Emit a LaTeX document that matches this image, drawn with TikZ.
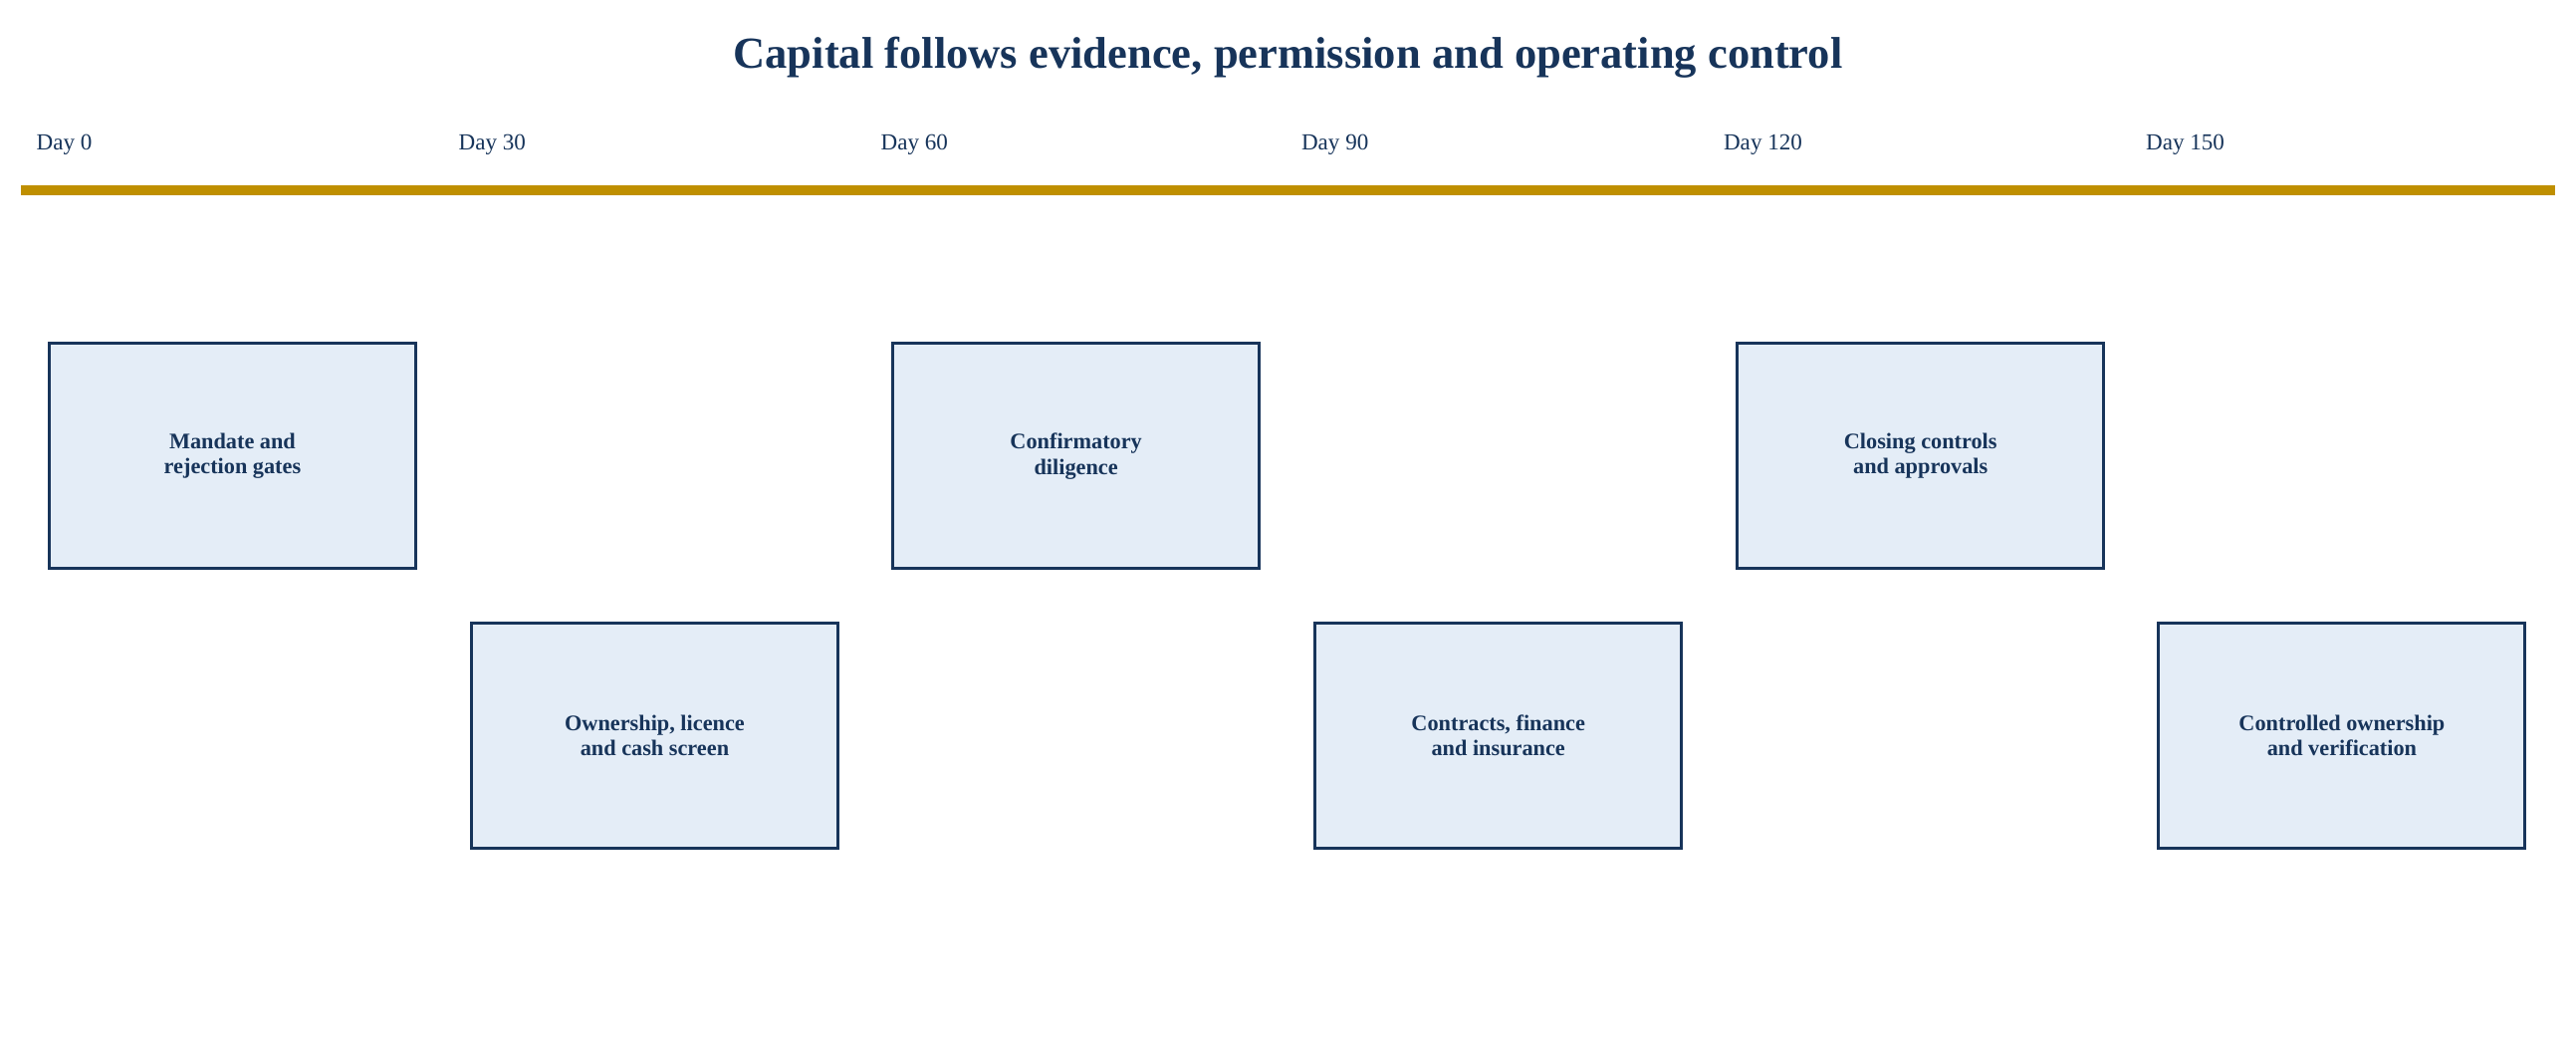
\documentclass[tikz,border=0pt]{standalone}
\usepackage{fontspec}
\setmainfont{Liberation Serif}
\definecolor{navy}{HTML}{17345A}
\definecolor{boxfill}{HTML}{E4EDF7}
\definecolor{gold}{HTML}{BF8F00}
\begin{document}
\begin{tikzpicture}[x=1pt,y=-1pt,
  stage/.style={draw=navy,line width=1.8pt,fill=boxfill,minimum width=223pt,minimum height=137pt,
    text=navy,font=\fontsize{13.5}{15.5}\selectfont\bfseries,align=center},
  day/.style={text=navy,font=\fontsize{14}{16}\selectfont,anchor=west,inner sep=0pt}]
\useasboundingbox (0,0) rectangle (1568,634);
\node[text=navy,font=\fontsize{27}{30}\selectfont\bfseries] (title) at (784,35) {Capital follows evidence, permission and operating control};
\node[day] (d0) at (22,88) {Day 0};
\node[day] (d30) at (279,88) {Day 30};
\node[day] (d60) at (536,88) {Day 60};
\node[day] (d90) at (792,88) {Day 90};
\node[day] (d120) at (1049,88) {Day 120};
\node[day] (d150) at (1306,88) {Day 150};
\coordinate (tl) at (13,116);
\coordinate (tr) at (1555,116);
\draw[gold,line width=6pt] (tl) -- (tr);
\node[stage] (s1) at (141.5,277.5) {Mandate and\\rejection gates};
\node[stage] (s2) at (398.5,447.5) {Ownership, licence\\and cash screen};
\node[stage] (s3) at (655,277.5) {Confirmatory\\diligence};
\node[stage] (s4) at (912,447.5) {Contracts, finance\\and insurance};
\node[stage] (s5) at (1169,277.5) {Closing controls\\and approvals};
\node[stage] (s6) at (1425.5,447.5) {Controlled ownership\\and verification};
\end{tikzpicture}
\end{document}
